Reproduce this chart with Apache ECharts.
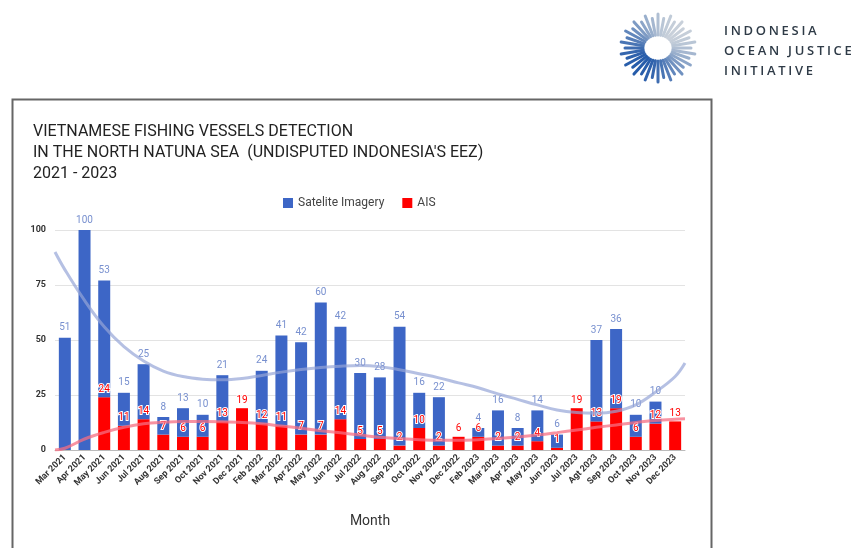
<!DOCTYPE html>
<html>
<head>
<meta charset="utf-8">
<script src="https://cdn.jsdelivr.net/npm/echarts@6/dist/echarts.min.js"></script>
<style>
  html, body { margin: 0; padding: 0; background: #fff; }
  #chart { width: 856px; height: 548px; }
  .logo-text {
    position: absolute; left: 724px; top: 20px;
    font-family: "Open Sans", "DejaVu Sans", sans-serif; font-weight: 600;
    font-size: 13px; line-height: 20px; letter-spacing: 2.7px; color: #2f3b47;
    white-space: nowrap;
  }
</style>
</head>
<body>
<div id="chart"></div>
<div class="logo-text">INDONESIA<br>OCEAN JUSTICE<br>INITIATIVE</div>
<script>
// Data
const months = ['Mar 2021', 'Apr 2021', 'May 2021', 'Jun 2021', 'Jul 2021', 'Aug 2021', 'Sep 2021', 'Oct 2021',
  'Nov 2021', 'Dec 2021', 'Feb 2022', 'Mar 2022', 'Apr 2022', 'May 2022', 'Jun 2022', 'Jul 2022', 'Aug 2022',
  'Sep 2022', 'Oct 2022', 'Nov 2022', 'Dec 2022', 'Feb 2023', 'Mar 2023', 'Apr 2023', 'May 2023', 'Jun 2023',
  'Jul 2023', 'Agt 2023', 'Sep 2023', 'Oct 2023', 'Nov 2023', 'Dec 2023'];
const satellite = [51, 100, 53, 15, 25, 8, 13, 10, 21, null, 24, 41, 42, 60, 42, 30, 28, 54, 16, 22, null,
  4, 16, 8, 14, 6, null, 37, 36, 10, 10, null];
const ais = [null, null, 24, 11, 14, 7, 6, 6, 13, 19, 12, 11, 7, 7, 14, 5, 5, 2, 10, 2, 6, 6, 2, 2, 4, 1,
  19, 13, 19, 6, 12, 13];

// trend lines (left edge, one per month, right edge)
const satTrend = [90, 82, 68, 56, 47, 40.5, 35.9, 33.4, 32.2, 31.9, 32.5, 33.9, 35.4, 36.6, 37.5, 38.1, 38.4,
  37.9, 36.5, 34.7, 32.8, 30.5, 28.3, 25.5, 23, 20.5, 18.2, 17, 16.7, 17.6, 20.5, 26.3, 33.4, 39.5];
const aisTrend = [0, 0.8, 5, 8, 10.3, 11.9, 12.6, 12.9, 12.9, 12.8, 12.5, 11.9, 10.9, 9.9, 8.8, 7.8, 6.8,
  5.8, 5.2, 4.7, 4.4, 4.4, 4.7, 5.2, 5.9, 6.8, 7.9, 9.1, 10.3, 11.4, 12.5, 13.4, 14, 14.2];

const yTicks = [0, 25, 50, 75, 100];

const BLUE = '#3d66c6';
const RED = '#ff0000';
const font = 'Roboto, "Noto Sans", sans-serif';

// trend x positions: category index, with half-step ends
const trendPoints = arr => arr.map((v, k) => {
  const x = k === 0 ? -0.5 : (k === arr.length - 1 ? months.length - 0.5 : k - 1);
  return [x, v];
});

// logo rays
function logoRays(cx, cy) {
  const rays = [];
  const n = 36;
  for (let k = 0; k < n; k++) {
    const a = (k / n) * Math.PI * 2;
    // lighter toward the upper right
    const t = (Math.cos(a - Math.PI * 1.75) + 1) / 2;
    const c1 = [38, 92, 170], c2 = [200, 208, 218];
    const col = 'rgb(' + c1.map((c, j) => Math.round(c + (c2[j] - c) * t)).join(',') + ')';
    const r1 = 13, r2 = 30 + (k % 2) * 4;
    rays.push({
      type: 'line',
      shape: {
        x1: cx + Math.cos(a) * r1 * 1.15, y1: cy + Math.sin(a) * r1,
        x2: cx + Math.cos(a) * r2 * 1.1, y2: cy + Math.sin(a) * r2
      },
      style: { stroke: col, lineWidth: 3, lineCap: 'round' },
      silent: true
    });
  }
  return rays;
}

const chart = echarts.init(document.getElementById('chart'), null, { renderer: 'canvas' });

chart.setOption({
  animation: false,
  textStyle: { fontFamily: font },
  title: {
    text: 'VIETNAMESE FISHING VESSELS DETECTION\nIN THE NORTH NATUNA SEA  (UNDISPUTED INDONESIA\'S EEZ)\n2021 - 2023',
    left: 28, top: 116,
    textStyle: { fontFamily: font, fontSize: 16, fontWeight: 'normal', color: '#222', lineHeight: 21 }
  },
  legend: {
    data: ['Satelite Imagery', 'AIS'],
    left: 278, top: 192,
    itemWidth: 10, itemHeight: 10, itemGap: 18,
    icon: 'rect',
    textStyle: { fontFamily: font, fontSize: 12, color: '#444' }
  },
  grid: { left: 55, right: 171, top: 230, bottom: 98 },
  xAxis: [
    {
      type: 'category',
      data: months,
      name: 'Month',
      nameLocation: 'middle',
      nameGap: 64,
      nameTextStyle: { fontFamily: font, fontSize: 14, color: '#333' },
      axisLine: { lineStyle: { color: '#bbb' } },
      axisTick: { show: false },
      axisLabel: { interval: 0, rotate: 45, fontSize: 9, fontWeight: 'bold', color: '#333', margin: 6 }
    },
    { type: 'value', min: -0.5, max: months.length - 0.5, show: false }
  ],
  yAxis: {
    type: 'value',
    min: 0, max: 100, interval: 25,
    axisLine: { show: false },
    axisTick: { show: false },
    axisLabel: {
      fontSize: 9, fontWeight: 'bold', color: '#333', margin: 9,
      formatter: v => (yTicks.includes(v) ? String(v) : '')
    },
    splitLine: { lineStyle: { color: '#e3e3e3' } }
  },
  series: [
    {
      name: 'AIS', type: 'bar', stack: 'total', data: ais, barWidth: 12,
      itemStyle: { color: RED },
      label: {
        show: true, position: 'top', distance: 3, fontSize: 10, color: RED,
        textBorderColor: '#fff', textBorderWidth: 2
      },
      z: 2
    },
    {
      name: 'Satelite Imagery', type: 'bar', stack: 'total', data: satellite, barWidth: 12,
      itemStyle: { color: BLUE },
      label: { show: true, position: 'top', distance: 5, fontSize: 10, color: '#7890cf' },
      z: 2
    },
    {
      name: 'satTrend', type: 'line', xAxisIndex: 1, data: trendPoints(satTrend), smooth: 0.4,
      showSymbol: false, lineStyle: { color: 'rgba(150,165,215,0.7)', width: 3 }, z: 3, silent: true
    },
    {
      name: 'aisTrend', type: 'line', xAxisIndex: 1, data: trendPoints(aisTrend), smooth: 0.4,
      showSymbol: false, lineStyle: { color: 'rgba(245,110,130,0.75)', width: 3 }, z: 3, silent: true
    }
  ],
  graphic: [
    {
      type: 'rect', left: 10, top: 97, silent: true,
      shape: { width: 699, height: 470 },
      style: { fill: 'none', stroke: '#666', lineWidth: 2 }
    },
    { type: 'group', silent: true, children: logoRays(658, 48) }
  ]
});
</script>
</body>
</html>
